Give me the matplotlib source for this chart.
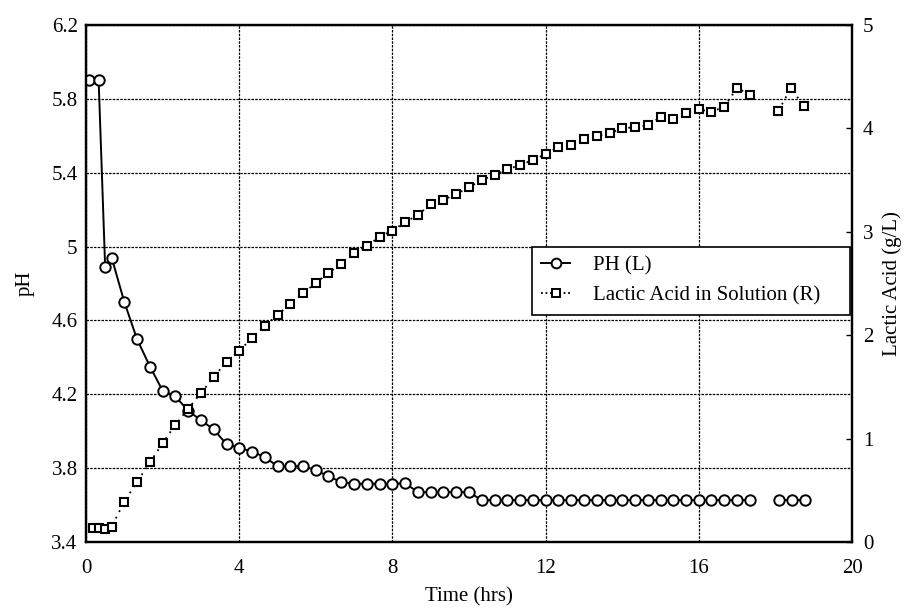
import numpy as np
import matplotlib
matplotlib.use("Agg")
import matplotlib.pyplot as plt
from matplotlib.lines import Line2D

plt.rcParams['font.family'] = ['Liberation Serif', 'DejaVu Serif']

# ---- data ----
ph_time = [0.08, 0.33, 0.5, 0.67, 1.0, 1.33, 1.67, 2.0, 2.33, 2.67, 3.0, 3.33, 3.67,
           4.0, 4.33, 4.67, 5.0, 5.33, 5.67, 6.0, 6.33, 6.67, 7.0, 7.33, 7.67,
           8.0, 8.33, 8.67, 9.0, 9.33, 9.67, 10.0, 10.33, 10.67, 11.0, 11.33, 11.67,
           12.0, 12.33, 12.67, 13.0, 13.33, 13.67, 14.0, 14.33, 14.67, 15.0, 15.33,
           15.67, 16.0, 16.33, 16.67, 17.0, 17.33, 17.7, 18.1, 18.43, 18.77]
ph_value = [5.9, 5.9, 4.89, 4.94, 4.70, 4.50, 4.35, 4.22, 4.19, 4.11, 4.06, 4.01, 3.93,
            3.91, 3.89, 3.86, 3.81, 3.81, 3.81, 3.79, 3.755, 3.725, 3.716, 3.716, 3.716,
            3.716, 3.718, 3.67, 3.67, 3.67, 3.67, 3.67, 3.627, 3.627, 3.627, 3.627, 3.627,
            3.627, 3.627, 3.627, 3.627, 3.627, 3.627, 3.627, 3.627, 3.627, 3.627, 3.627,
            3.627, 3.627, 3.627, 3.627, 3.627, 3.627, np.nan, 3.627, 3.627, 3.627]

lactic_time = [0.17, 0.33, 0.5, 0.67, 1.0, 1.33, 1.67, 2.0, 2.33, 2.67, 3.0, 3.33, 3.67,
               4.0, 4.33, 4.67, 5.0, 5.33, 5.67, 6.0, 6.33, 6.67, 7.0, 7.33, 7.67,
               8.0, 8.33, 8.67, 9.0, 9.33, 9.67, 10.0, 10.33, 10.67, 11.0, 11.33, 11.67,
               12.0, 12.33, 12.67, 13.0, 13.33, 13.67, 14.0, 14.33, 14.67, 15.0, 15.33,
               15.67, 16.0, 16.33, 16.67, 17.0, 17.33, 17.7, 18.08, 18.4, 18.75]
lactic_value = [0.138, 0.132, 0.126, 0.148, 0.39, 0.58, 0.77, 0.954, 1.132, 1.29, 1.44,
                1.593, 1.744, 1.85, 1.97, 2.092, 2.195, 2.302, 2.411, 2.502, 2.604, 2.689,
                2.792, 2.863, 2.953, 3.011, 3.092, 3.163, 3.269, 3.308, 3.366, 3.43,
                3.501, 3.549, 3.604, 3.646, 3.694, 3.752, 3.817, 3.839, 3.897, 3.929,
                3.953, 4.001, 4.011, 4.033, 4.108, 4.089, 4.147, 4.185, 4.159, 4.21,
                4.394, 4.323, np.nan, 4.171, 4.387, 4.216]

x_ticks = [0, 4, 8, 12, 16, 20]
ph_ticks = [3.4, 3.8, 4.2, 4.6, 5.0, 5.4, 5.8, 6.2]
ph_tick_labels = ['3.4', '3.8', '4.2', '4.6', '5', '5.4', '5.8', '6.2']
lactic_ticks = [0, 1, 2, 3, 4, 5]

FS = 15

fig = plt.figure(figsize=(9.13, 6.11), dpi=100)
ax = fig.add_axes([86/913, 1 - 542/611, (852-86)/913, (542-25)/611])
ax2 = ax.twinx()

ax.set_xlim(0, 20)
ax.set_ylim(3.4, 6.2)
ax2.set_ylim(0, 5)

ax.set_xticks(x_ticks)
ax.set_xticklabels([str(v) for v in x_ticks])
ax.set_yticks(ph_ticks)
ax.set_yticklabels(ph_tick_labels)
ax2.set_yticks(lactic_ticks)
ax2.set_yticklabels([str(v) for v in lactic_ticks])

ax.grid(True, color='black', linestyle=(0, (2, 1)), linewidth=0.9)
ax.set_axisbelow(True)

ax.tick_params(axis='both', length=0, labelsize=FS)
ax.tick_params(axis='x', pad=12)
ax.tick_params(axis='y', pad=6)
ax2.tick_params(axis='y', direction='in', length=4, width=1, labelsize=FS, pad=8)

for a in (ax, ax2):
    for s in a.spines.values():
        s.set_linewidth(1.6)
        s.set_color('black')

ax.plot(ph_time, ph_value, color='black', linewidth=1.4, marker='o', markersize=7.5,
        markerfacecolor='white', markeredgecolor='black', markeredgewidth=1.4)
ax2.plot(lactic_time, lactic_value, color='black', linewidth=1.3, linestyle=(0, (1, 3)),
         marker='s', markersize=6, markerfacecolor='white', markeredgecolor='black',
         markeredgewidth=1.5)

ax.set_xlabel('Time (hrs)', fontsize=FS, labelpad=7)
ax.set_ylabel('pH', fontsize=FS, labelpad=12)
ax2.set_ylabel('Lactic Acid (g/L)', fontsize=FS, labelpad=6)

h1 = Line2D([], [], color='black', linewidth=1.4, marker='o', markersize=7,
            markerfacecolor='white', markeredgewidth=1.4)
h2 = Line2D([], [], color='black', linewidth=1.3, linestyle=(0, (1, 1.5)), marker='s',
            markersize=6, markerfacecolor='white', markeredgewidth=1.4)
leg = ax2.legend([h1, h2], ['PH (L)', 'Lactic Acid in Solution (R)'],
                 loc='upper left', bbox_to_anchor=(0.582, 0.439, 0.415, 0.132),
                 mode='expand', fontsize=FS, frameon=True, fancybox=False,
                 edgecolor='black', framealpha=1, borderpad=0.45, handlelength=1.4,
                 handletextpad=1.1, labelspacing=0.5, borderaxespad=0)
leg.get_frame().set_linewidth(1.2)

fig.savefig('out.png', dpi=100, facecolor='white')
